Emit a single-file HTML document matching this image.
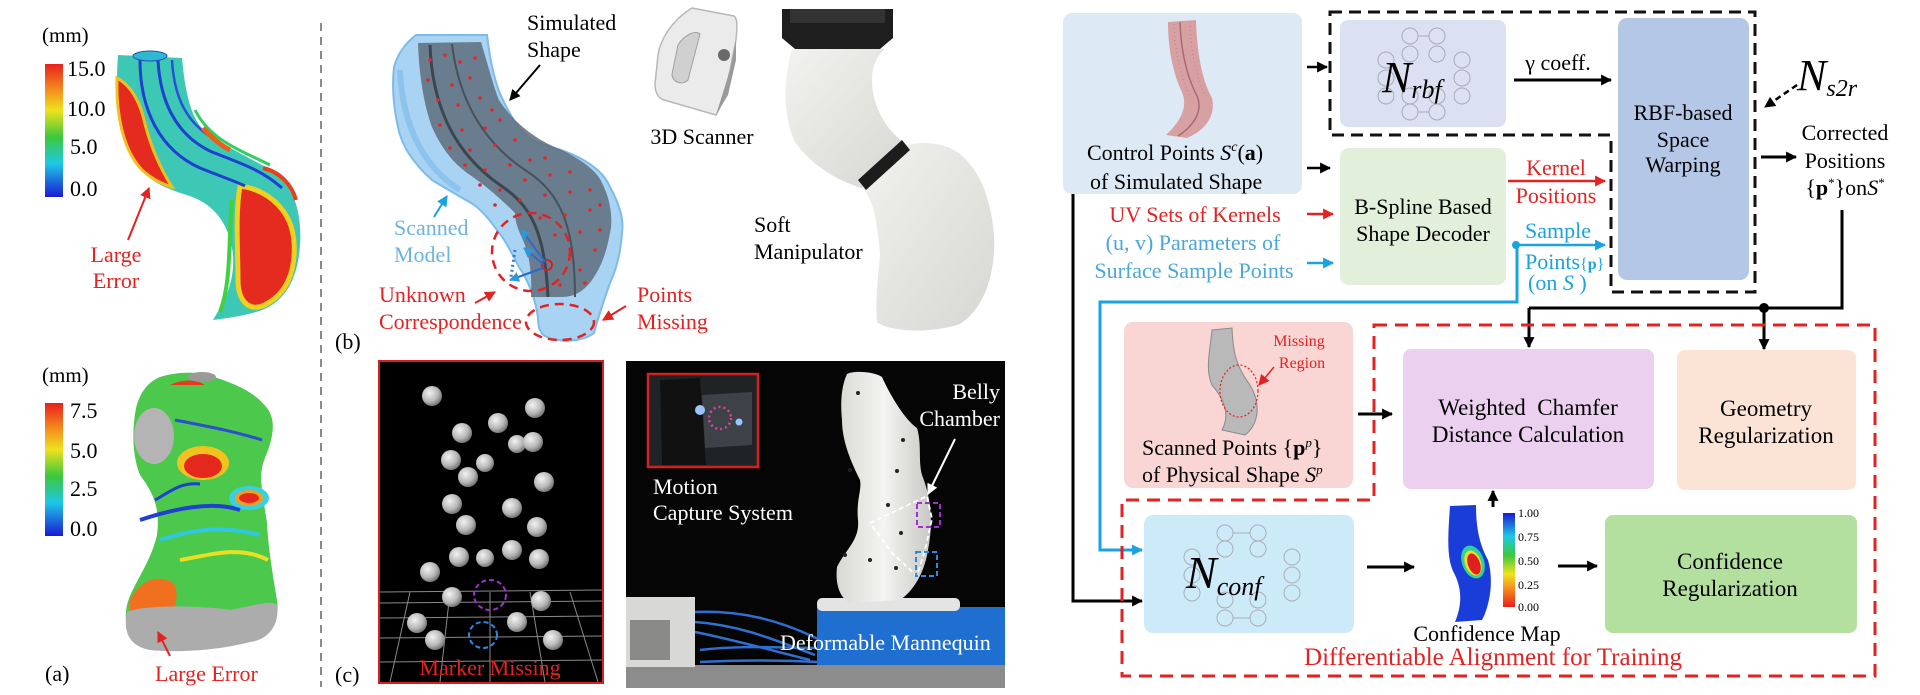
<!DOCTYPE html>
<html>
<head>
<meta charset="utf-8">
<style>
html,body{margin:0;padding:0;background:#fff;font-family:"Liberation Serif","Times New Roman","DejaVu Serif",serif;}
svg{display:block;font-family:"Liberation Serif","Times New Roman","DejaVu Serif",serif;}
svg text, svg tspan{font-family:"Liberation Serif","Times New Roman","DejaVu Serif",serif;}
</style>
</head>
<body>
<svg width="1920" height="695" viewBox="0 0 1920 695" xmlns="http://www.w3.org/2000/svg" font-family="Liberation Serif, Times New Roman, DejaVu Serif, serif">
<defs>
  <marker id="ak" viewBox="0 0 10 10" refX="9" refY="5" markerWidth="11" markerHeight="11" markerUnits="userSpaceOnUse" orient="auto"><path d="M0,0 L10,5 L0,10 z" fill="#000"/></marker>
  <marker id="ar" viewBox="0 0 10 10" refX="9" refY="5" markerWidth="11" markerHeight="11" markerUnits="userSpaceOnUse" orient="auto"><path d="M0,0 L10,5 L0,10 z" fill="#e32222"/></marker>
  <marker id="ab" viewBox="0 0 10 10" refX="9" refY="5" markerWidth="11" markerHeight="11" markerUnits="userSpaceOnUse" orient="auto"><path d="M0,0 L10,5 L0,10 z" fill="#1aa3e0"/></marker>
  <marker id="abl" viewBox="0 0 10 10" refX="9" refY="5" markerWidth="10" markerHeight="10" markerUnits="userSpaceOnUse" orient="auto"><path d="M0,0 L10,5 L0,10 z" fill="#2a9ad8"/></marker>
  <marker id="aw" viewBox="0 0 10 10" refX="9" refY="5" markerWidth="11" markerHeight="11" markerUnits="userSpaceOnUse" orient="auto"><path d="M0,0 L10,5 L0,10 z" fill="#fff"/></marker>
  <linearGradient id="cbar" x1="0" y1="0" x2="0" y2="1">
    <stop offset="0" stop-color="#e8201c"/>
    <stop offset="0.2" stop-color="#f5901e"/>
    <stop offset="0.35" stop-color="#efe21e"/>
    <stop offset="0.55" stop-color="#3cc83c"/>
    <stop offset="0.75" stop-color="#1ec8e6"/>
    <stop offset="1" stop-color="#1a1ad2"/>
  </linearGradient>
  <linearGradient id="cbar2" x1="0" y1="0" x2="0" y2="1">
    <stop offset="0" stop-color="#1a1ad2"/>
    <stop offset="0.25" stop-color="#1ec8e6"/>
    <stop offset="0.45" stop-color="#3cc83c"/>
    <stop offset="0.65" stop-color="#efe21e"/>
    <stop offset="0.8" stop-color="#f5901e"/>
    <stop offset="1" stop-color="#e8201c"/>
  </linearGradient>
  <linearGradient id="manip" x1="0" y1="0" x2="1" y2="1">
    <stop offset="0" stop-color="#f2f2f0"/>
    <stop offset="1" stop-color="#d6d6d2"/>
  </linearGradient>
  <linearGradient id="mq" x1="0" y1="0" x2="1" y2="0">
    <stop offset="0" stop-color="#d8d8d4"/>
    <stop offset="0.5" stop-color="#f4f4f2"/>
    <stop offset="1" stop-color="#c8c8c4"/>
  </linearGradient>
  <radialGradient id="sph" cx="0.38" cy="0.35" r="0.7">
    <stop offset="0" stop-color="#f2f2f2"/>
    <stop offset="0.6" stop-color="#b8b8b8"/>
    <stop offset="1" stop-color="#6a6a6a"/>
  </radialGradient>
</defs>

<!-- ================= PANEL (a) ================= -->
<text x="42" y="42" font-size="21">(mm)</text>
<rect x="45" y="64" width="18" height="133" fill="url(#cbar)"/>
<text x="67" y="76" font-size="22">15.0</text>
<text x="67" y="116" font-size="22">10.0</text>
<text x="70" y="154" font-size="22">5.0</text>
<text x="70" y="196" font-size="22">0.0</text>

<!-- tube -->
<g>
  <path d="M118,55 L182,58 C184,80 188,110 200,126 C215,142 250,158 275,172 C295,188 302,215 300,245 C298,275 288,300 262,310 C245,316 228,318 213,320 C222,305 235,285 233,255 C230,225 215,205 190,196 C170,190 150,183 137,165 C122,145 114,110 118,55 Z" fill="#3cc8b4"/>
  <path d="M117,78 C116,115 123,150 142,170 C152,179 162,184 172,187 C160,168 150,145 144,120 C139,100 130,85 117,78 Z" fill="#e52a20" stroke="#f0c020" stroke-width="3"/>
  <path d="M240,186 C270,190 292,212 294,242 C296,272 286,296 262,306 C248,311 238,300 238,280 C238,250 235,215 240,186 Z" fill="#e52a20" stroke="#f0d020" stroke-width="5"/>
  <path d="M140,60 C140,110 160,150 200,168 C225,178 240,183 245,186" fill="none" stroke="#2040d0" stroke-width="3"/>
  <path d="M158,60 C160,100 175,135 212,152 C240,163 262,170 282,188" fill="none" stroke="#2040d0" stroke-width="3"/>
  <path d="M172,60 C174,95 185,125 220,142" fill="none" stroke="#2a50d8" stroke-width="2.5"/>
  <path d="M195,110 C210,140 240,150 270,165" fill="none" stroke="#30d060" stroke-width="3"/>
  <path d="M232,200 C228,240 232,280 220,312" fill="none" stroke="#40d040" stroke-width="4"/>
  <ellipse cx="150" cy="56" rx="17" ry="5" fill="#30b8d0" stroke="#1a50c0" stroke-width="1"/>
  <path d="M203,128 C212,138 222,146 230,150" fill="none" stroke="#e8601c" stroke-width="5"/>
  <path d="M263,168 C280,172 292,185 296,200" fill="none" stroke="#e8401c" stroke-width="4"/>
</g>
<text x="116" y="262" font-size="22" fill="#e32222" text-anchor="middle">Large</text>
<text x="116" y="288" font-size="22" fill="#e32222" text-anchor="middle">Error</text>
<line x1="128" y1="240" x2="149" y2="188" stroke="#e32222" stroke-width="2" marker-end="url(#ar)"/>

<text x="42" y="382" font-size="21">(mm)</text>
<rect x="45" y="403" width="18" height="133" fill="url(#cbar)"/>
<text x="70" y="418" font-size="22">7.5</text>
<text x="70" y="458" font-size="22">5.0</text>
<text x="70" y="496" font-size="22">2.5</text>
<text x="70" y="536" font-size="22">0.0</text>

<!-- mannequin heatmap -->
<g>
  <path d="M160,377 C175,372 200,370 217,378 C235,384 255,392 267,408 C276,420 274,436 265,458 C258,475 262,490 267,523 C268,545 272,570 277,600 C280,620 270,635 250,640 C220,648 180,652 150,650 C128,645 123,625 127,605 C132,585 150,565 157,535 C160,510 155,495 140,475 C132,455 132,430 136,408 C140,392 148,382 160,377 Z" fill="#4cc84c"/>
  <ellipse cx="154" cy="436" rx="20" ry="28" fill="#b4b4b4"/>
  <path d="M130,600 C140,580 160,572 175,585 C180,600 172,620 160,625 L130,622 Z" fill="#f07020"/>
  <path d="M127,612 C140,605 200,605 230,610 C255,605 272,600 277,605 C280,625 268,640 250,642 C220,650 180,653 150,650 C128,646 123,630 127,612 Z" fill="#acacac"/>
  <ellipse cx="203" cy="463" rx="26" ry="17" fill="#f2c21e"/>
  <ellipse cx="203" cy="466" rx="19" ry="12" fill="#e5281e"/>
  <ellipse cx="249" cy="498" rx="20" ry="12" fill="#3ad0e0"/>
  <ellipse cx="249" cy="498" rx="14" ry="8" fill="#f0a020"/>
  <ellipse cx="249" cy="498" rx="10" ry="5" fill="#e5281e"/>
  <path d="M140,520 C170,510 210,500 240,510" fill="none" stroke="#2040d0" stroke-width="4"/>
  <path d="M160,540 C190,530 220,525 260,535" fill="none" stroke="#30c8e0" stroke-width="4"/>
  <path d="M180,560 C210,555 240,545 268,560" fill="none" stroke="#e8e020" stroke-width="4"/>
  <path d="M175,420 C200,425 230,430 262,440" fill="none" stroke="#2a50d0" stroke-width="3"/>
  <path d="M155,500 C170,492 180,482 200,484" fill="none" stroke="#2040d0" stroke-width="3"/>
  <path d="M170,385 C180,380 195,378 205,385" fill="#e53a20"/>
  <ellipse cx="202" cy="377" rx="14" ry="5" fill="#9a9a9a"/>
</g>
<text x="45" y="681" font-size="22">(a)</text>
<text x="155" y="681" font-size="22" fill="#e32222">Large Error</text>
<line x1="170" y1="656" x2="158" y2="632" stroke="#e32222" stroke-width="2" marker-end="url(#ar)"/>

<!-- separator -->
<line x1="321" y1="23" x2="321" y2="687" stroke="#8a8a8a" stroke-width="2" stroke-dasharray="8,6"/>

<!-- ================= PANEL (b) ================= -->
<path d="M416,35 L487,35 C490,60 495,85 503,100 C515,125 525,138 539,143 C555,148 568,152 578,157 C595,166 605,175 610,187 C620,205 624,220 622,233 C620,258 615,272 610,283 C604,300 598,318 594,333 C585,340 570,342 558,340 C545,338 538,335 538,318 C536,300 528,280 519,267 C510,250 505,240 499,233 C490,220 480,208 471,203 C452,192 440,185 432,180 C415,165 402,148 398,127 C393,105 392,85 394,67 C398,52 407,42 416,35 Z" fill="#a9d3f2" stroke="#7cbbea" stroke-width="2"/>
<path d="M400,70 C402,120 420,165 460,190" fill="none" stroke="#8cc4ee" stroke-width="6"/>
<path d="M418,43 L481,42 C488,65 494,88 499,100 C515,125 540,142 562,150 C582,160 598,172 602,183 C611,200 613,220 610,233 C606,255 600,268 594,277 C586,290 575,297 562,297 L531,297 C532,275 530,255 522,238 C516,225 515,218 515,213 C500,198 485,185 467,173 C450,160 440,145 432,127 C424,105 419,75 418,43 Z" fill="#5f6d7c" opacity="0.85"/>
<path d="M430,45 C432,100 450,150 500,185 C530,205 545,230 548,297" fill="none" stroke="#3c4650" stroke-width="3"/>
<path d="M452,44 C458,95 480,140 525,170 C560,192 575,225 575,297" fill="none" stroke="#46515c" stroke-width="2"/>
<g fill="#e0262a">
<circle cx="430" cy="60" r="1.8"/><circle cx="445" cy="55" r="1.8"/><circle cx="460" cy="62" r="1.8"/><circle cx="475" cy="58" r="1.8"/><circle cx="428" cy="80" r="1.8"/><circle cx="452" cy="85" r="1.8"/><circle cx="470" cy="78" r="1.8"/><circle cx="438" cy="100" r="1.8"/><circle cx="458" cy="105" r="1.8"/><circle cx="480" cy="98" r="1.8"/><circle cx="492" cy="110" r="1.8"/><circle cx="440" cy="125" r="1.8"/><circle cx="462" cy="130" r="1.8"/><circle cx="485" cy="128" r="1.8"/><circle cx="500" cy="120" r="1.8"/><circle cx="450" cy="148" r="1.8"/><circle cx="470" cy="150" r="1.8"/><circle cx="495" cy="145" r="1.8"/><circle cx="515" cy="140" r="1.8"/><circle cx="465" cy="165" r="1.8"/><circle cx="485" cy="170" r="1.8"/><circle cx="510" cy="165" r="1.8"/><circle cx="530" cy="160" r="1.8"/><circle cx="545" cy="158" r="1.8"/><circle cx="480" cy="185" r="1.8"/><circle cx="500" cy="190" r="1.8"/><circle cx="525" cy="180" r="1.8"/><circle cx="550" cy="175" r="1.8"/><circle cx="570" cy="172" r="1.8"/><circle cx="495" cy="205" r="1.8"/><circle cx="520" cy="200" r="1.8"/><circle cx="545" cy="195" r="1.8"/><circle cx="570" cy="192" r="1.8"/><circle cx="590" cy="190" r="1.8"/><circle cx="540" cy="218" r="1.8"/><circle cx="565" cy="215" r="1.8"/><circle cx="590" cy="210" r="1.8"/><circle cx="600" cy="205" r="1.8"/><circle cx="555" cy="235" r="1.8"/><circle cx="580" cy="232" r="1.8"/><circle cx="600" cy="230" r="1.8"/><circle cx="570" cy="255" r="1.8"/><circle cx="595" cy="250" r="1.8"/><circle cx="580" cy="270" r="1.8"/><circle cx="560" cy="285" r="1.8"/><circle cx="585" cy="283" r="1.8"/>
</g>
<circle cx="531" cy="252" r="39" fill="none" stroke="#e32222" stroke-width="2.5" stroke-dasharray="9,6"/>
<ellipse cx="560" cy="322" rx="34" ry="18" fill="none" stroke="#e32222" stroke-width="2.5" stroke-dasharray="9,6"/>
<circle cx="547" cy="265" r="5" fill="none" stroke="#d42020" stroke-width="2"/>
<line x1="545" y1="262" x2="521" y2="229" stroke="#2a6ad0" stroke-width="2" marker-end="url(#abl)"/>
<line x1="543" y1="264" x2="524" y2="248" stroke="#2a6ad0" stroke-width="2" marker-end="url(#abl)"/>
<line x1="543" y1="268" x2="510" y2="280" stroke="#2a6ad0" stroke-width="2" marker-end="url(#abl)"/>
<line x1="515" y1="250" x2="511" y2="277" stroke="#3a7ad8" stroke-width="3" stroke-dasharray="2,3"/>

<text x="527" y="30" font-size="22">Simulated</text>
<text x="527" y="57" font-size="22">Shape</text>
<line x1="540" y1="65" x2="510" y2="100" stroke="#000" stroke-width="2" marker-end="url(#ak)"/>
<text x="394" y="235" font-size="22" fill="#6cb4e4">Scanned</text>
<text x="394" y="262" font-size="22" fill="#6cb4e4">Model</text>
<line x1="434" y1="217" x2="447" y2="196" stroke="#1aa3e0" stroke-width="2" marker-end="url(#ab)"/>
<text x="379" y="302" font-size="22" fill="#e32222">Unknown</text>
<text x="379" y="329" font-size="22" fill="#e32222">Correspondence</text>
<line x1="475" y1="303" x2="495" y2="292" stroke="#e32222" stroke-width="2" marker-end="url(#ar)"/>
<text x="637" y="302" font-size="22" fill="#e32222">Points</text>
<text x="637" y="329" font-size="22" fill="#e32222">Missing</text>
<line x1="626" y1="306" x2="603" y2="320" stroke="#e32222" stroke-width="2" marker-end="url(#ar)"/>
<text x="335" y="349" font-size="22">(b)</text>

<!-- 3D scanner -->
<g>
  <path d="M692,8 L734,16 C738,18 737,30 736,40 L730,70 C726,90 722,105 716,115 L664,100 C658,98 655,92 655,84 L658,55 C660,40 672,20 692,8 Z" fill="#ebebeb" stroke="#b8b8b8" stroke-width="1.5"/>
  <path d="M716,115 L730,70 L736,40 L736,60 L728,95 Z" fill="#9a9a9a"/>
  <path d="M678,45 C684,35 695,30 700,34 L688,80 C682,86 672,82 672,74 Z" fill="#d0d0d0" stroke="#a0a0a0"/>
  <circle cx="724" cy="55" r="6" fill="#6a6a6a"/>
</g>
<text x="702" y="144" font-size="22" text-anchor="middle">3D Scanner</text>

<!-- soft manipulator -->
<g>
  <path d="M792,49 C786,70 780,110 795,142 C812,166 838,181 862,188 L907,145 C885,130 872,105 872,80 C872,65 878,55 885,49 Z" fill="url(#manip)"/>
  <path d="M862,188 C875,200 878,230 880,255 C878,280 875,300 877,322 C890,332 930,334 960,324 C985,308 996,272 994,235 C991,195 976,160 950,148 C935,142 920,142 907,145 Z" fill="url(#manip)"/>
  <path d="M782,9 L893,9 L893,38 L880,49 L795,49 L782,38 Z" fill="#1e1e1e"/>
  <rect x="790" y="9" width="95" height="14" fill="#333"/>
  <path d="M858,180 L902,140 L910,150 L866,190 Z" fill="#1c1c1c"/>
</g>
<text x="754" y="232" font-size="22">Soft</text>
<text x="754" y="259" font-size="22">Manipulator</text>

<!-- ================= PANEL (c) ================= -->
<rect x="379" y="361" width="224" height="322" fill="#000" stroke="#d42020" stroke-width="2"/>
<g stroke="#8a8a8a" stroke-width="1" fill="none">
  <line x1="380" y1="592" x2="602" y2="590"/>
  <line x1="380" y1="603" x2="602" y2="601"/>
  <line x1="380" y1="618" x2="602" y2="616"/>
  <line x1="380" y1="638" x2="602" y2="636"/>
  <line x1="380" y1="662" x2="602" y2="660"/>
  <line x1="410" y1="592" x2="390" y2="682"/>
  <line x1="450" y1="592" x2="440" y2="682"/>
  <line x1="490" y1="592" x2="490" y2="682"/>
  <line x1="530" y1="592" x2="545" y2="682"/>
  <line x1="570" y1="592" x2="598" y2="682"/>
</g>
<g fill="url(#sph)">
<circle cx="432" cy="396" r="10"/><circle cx="535" cy="408" r="10"/><circle cx="462" cy="433" r="10"/><circle cx="498" cy="423" r="10"/><circle cx="517" cy="444" r="9"/><circle cx="533" cy="442" r="10"/><circle cx="451" cy="460" r="10"/><circle cx="485" cy="463" r="9"/><circle cx="468" cy="477" r="10"/><circle cx="544" cy="482" r="10"/><circle cx="452" cy="504" r="10"/><circle cx="512" cy="508" r="10"/><circle cx="466" cy="525" r="10"/><circle cx="537" cy="527" r="10"/><circle cx="459" cy="557" r="10"/><circle cx="485" cy="558" r="9"/><circle cx="512" cy="550" r="10"/><circle cx="539" cy="559" r="10"/><circle cx="430" cy="572" r="10"/><circle cx="452" cy="597" r="10"/><circle cx="541" cy="601" r="10"/><circle cx="417" cy="623" r="10"/><circle cx="517" cy="622" r="10"/><circle cx="435" cy="640" r="10"/><circle cx="553" cy="640" r="10"/>
</g>
<ellipse cx="490" cy="595" rx="16" ry="15" fill="none" stroke="#a030d0" stroke-width="2" stroke-dasharray="5,3"/>
<ellipse cx="483" cy="635" rx="14" ry="13" fill="none" stroke="#2a8ae0" stroke-width="2" stroke-dasharray="5,3"/>
<text x="490" y="675" font-size="22" fill="#e32222" text-anchor="middle">Marker Missing</text>
<text x="335" y="682" font-size="22">(c)</text>

<!-- photo -->
<rect x="626" y="361" width="379" height="327" fill="#050505"/>
<rect x="626" y="665" width="379" height="23" fill="#8c8c8c"/>
<rect x="648" y="374" width="110" height="93" fill="#202326" stroke="#d42020" stroke-width="2.5"/>
<path d="M660,380 L700,378 L706,465 L662,465 Z" fill="#111"/>
<path d="M702,395 L752,392 L752,445 L705,448 Z" fill="#3d4248"/>
<circle cx="720" cy="418" r="11" fill="none" stroke="#e0409a" stroke-width="2.5" stroke-dasharray="2,3"/>
<circle cx="700" cy="410" r="5" fill="#9ac4ff"/>
<circle cx="739" cy="422" r="3.5" fill="#9ac4ff"/>
<text x="653" y="494" font-size="22" fill="#fff">Motion</text>
<text x="653" y="520" font-size="22" fill="#fff">Capture System</text>

<rect x="626" y="597" width="69" height="70" fill="#d8d8d6"/>
<rect x="630" y="620" width="40" height="40" fill="#8a8a88"/>
<g fill="none" stroke="#2f6fd0" stroke-width="2.5">
  <path d="M695,612 C740,610 780,620 820,640"/>
  <path d="M695,622 C740,625 775,640 815,655"/>
  <path d="M695,632 C735,640 770,650 810,660"/>
  <path d="M700,650 C740,645 780,648 818,648"/>
  <path d="M700,662 C740,660 780,660 818,662"/>
</g>
<rect x="817" y="607" width="188" height="58" fill="#1f6fd0"/>
<rect x="817" y="598" width="143" height="13" rx="5" fill="#e4e4e4"/>
<path d="M847,374 C855,370 875,372 882,377 C890,395 905,420 917,428 C922,445 918,460 922,475 C930,495 934,520 928,550 C924,575 912,592 900,600 L850,603 C840,598 835,585 837,567 C845,550 860,540 858,520 C856,500 862,490 860,480 C850,460 842,440 842,420 C840,400 842,385 847,374 Z" fill="url(#mq)"/>
<g fill="#222">
  <circle cx="858" cy="393" r="2"/><circle cx="903" cy="440" r="2"/><circle cx="897" cy="471" r="2"/><circle cx="888" cy="505" r="2"/><circle cx="901" cy="533" r="2"/><circle cx="896" cy="568" r="2"/><circle cx="850" cy="470" r="2"/><circle cx="845" cy="555" r="2"/><circle cx="870" cy="560" r="2"/>
</g>
<path d="M870,523 L927,496 L932,519 L925,550 L917,576 L893,554 Z" fill="none" stroke="#fff" stroke-width="1.8" stroke-dasharray="5,3"/>
<rect x="917" y="503" width="23" height="24" fill="none" stroke="#a030d0" stroke-width="2" stroke-dasharray="5,3"/>
<rect x="916" y="552" width="21" height="24" fill="none" stroke="#2a8ae0" stroke-width="2" stroke-dasharray="5,3"/>
<text x="1000" y="399" font-size="22" fill="#fff" text-anchor="end">Belly</text>
<text x="1000" y="426" font-size="22" fill="#fff" text-anchor="end">Chamber</text>
<line x1="955" y1="439" x2="928" y2="494" stroke="#fff" stroke-width="2" marker-end="url(#aw)"/>
<text x="780" y="650" font-size="22" fill="#fff">Deformable Mannequin</text>

<!-- ================= RIGHT DIAGRAM ================= -->
<rect x="1063" y="13" width="239" height="181" rx="9" fill="#dde9f5"/>
<path d="M1168,22 L1196,20 C1197,50 1201,78 1212,98 C1216,115 1206,130 1187,138 L1166,135 C1181,121 1189,106 1181,90 C1172,70 1168,46 1168,22 Z" fill="#d7a1a4"/>
<path d="M1180,22 C1181,50 1186,75 1197,96 C1203,110 1195,125 1178,136" fill="none" stroke="#a86a70" stroke-width="1.5"/>
<path d="M1174,24 C1175,52 1180,76 1190,96" fill="none" stroke="#b98088" stroke-width="1" stroke-dasharray="1,3"/>
<path d="M1190,22 C1191,50 1195,76 1206,96" fill="none" stroke="#b98088" stroke-width="1" stroke-dasharray="1,3"/>
<text x="1087" y="160" font-size="22">Control Points <tspan font-style="italic">S</tspan><tspan font-size="14" dy="-9" font-style="italic">c</tspan><tspan dy="9">(</tspan><tspan font-weight="bold">a</tspan>)</text>
<text x="1090" y="189" font-size="22">of Simulated Shape</text>

<text x="1195" y="222" font-size="22" fill="#e32222" text-anchor="middle">UV Sets of Kernels</text>
<text x="1193" y="250" font-size="22" fill="#4aa8d8" text-anchor="middle">(u, v) Parameters of</text>
<text x="1194" y="278" font-size="22" fill="#4aa8d8" text-anchor="middle">Surface Sample Points</text>

<line x1="1307" y1="67" x2="1327" y2="67" stroke="#000" stroke-width="2.5" marker-end="url(#ak)"/>
<line x1="1307" y1="168" x2="1330" y2="168" stroke="#000" stroke-width="2.5" marker-end="url(#ak)"/>
<line x1="1307" y1="214" x2="1333" y2="214" stroke="#e32222" stroke-width="2.5" marker-end="url(#ar)"/>
<line x1="1307" y1="263" x2="1333" y2="263" stroke="#1aa3e0" stroke-width="2.5" marker-end="url(#ab)"/>

<path d="M1330,12 L1755,12 L1755,292 L1611,292 L1611,135 L1330,135 Z" fill="none" stroke="#111" stroke-width="3" stroke-dasharray="12,7"/>

<rect x="1340" y="20" width="166" height="107" rx="8" fill="#dbe1f2"/>
<g fill="none" stroke="#a8acb8" stroke-width="1">
  <circle cx="1386" cy="60" r="8"/><circle cx="1386" cy="78" r="8"/><circle cx="1386" cy="96" r="8"/>
  <circle cx="1410" cy="36" r="8"/><circle cx="1410" cy="54" r="8"/><circle cx="1410" cy="96" r="8"/><circle cx="1410" cy="112" r="8"/>
  <circle cx="1437" cy="36" r="8"/><circle cx="1437" cy="54" r="8"/><circle cx="1437" cy="96" r="8"/><circle cx="1437" cy="112" r="8"/>
  <circle cx="1462" cy="60" r="8"/><circle cx="1462" cy="78" r="8"/><circle cx="1462" cy="96" r="8"/>
  <line x1="1418" y1="36" x2="1429" y2="36"/><line x1="1418" y1="112" x2="1429" y2="112"/>
</g>
<text x="1382" y="92" font-size="44" font-style="italic">N<tspan font-size="26" dy="6">rbf</tspan></text>

<text x="1558" y="70" font-size="22" text-anchor="middle">γ coeff.</text>
<line x1="1514" y1="80" x2="1611" y2="80" stroke="#000" stroke-width="3" marker-end="url(#ak)"/>

<rect x="1618" y="18" width="131" height="262" rx="9" fill="#b4c7e7"/>
<text x="1683" y="120" font-size="22" text-anchor="middle">RBF-based</text>
<text x="1683" y="147" font-size="22" text-anchor="middle">Space</text>
<text x="1683" y="172" font-size="22" text-anchor="middle">Warping</text>

<rect x="1340" y="148" width="166" height="137" rx="9" fill="#e2efda"/>
<text x="1423" y="214" font-size="22" text-anchor="middle">B-Spline Based</text>
<text x="1423" y="241" font-size="22" text-anchor="middle">Shape Decoder</text>

<text x="1556" y="175" font-size="22" fill="#e32222" text-anchor="middle">Kernel</text>
<line x1="1508" y1="181" x2="1605" y2="181" stroke="#e32222" stroke-width="2.5" marker-end="url(#ar)"/>
<text x="1556" y="203" font-size="22" fill="#e32222" text-anchor="middle">Positions</text>
<text x="1558" y="238" font-size="22" fill="#1aa3e0" text-anchor="middle">Sample</text>
<line x1="1514" y1="245" x2="1605" y2="245" stroke="#1aa3e0" stroke-width="2.5" marker-end="url(#ab)"/>
<circle cx="1516" cy="245" r="4" fill="#1aa3e0"/>
<text x="1525" y="269" font-size="22" fill="#1aa3e0">Points<tspan font-size="16">{</tspan><tspan font-size="16" font-weight="bold">p</tspan><tspan font-size="16">}</tspan></text>
<text x="1528" y="290" font-size="22" fill="#1aa3e0">(on <tspan font-style="italic">S</tspan> )</text>

<text x="1797" y="90" font-size="44" font-style="italic">N<tspan font-size="24" dy="6">s2r</tspan></text>
<line x1="1797" y1="85" x2="1765" y2="107" stroke="#000" stroke-width="2.5" stroke-dasharray="6,4" marker-end="url(#ak)"/>
<line x1="1761" y1="157" x2="1796" y2="157" stroke="#000" stroke-width="3" marker-end="url(#ak)"/>
<text x="1845" y="140" font-size="22" text-anchor="middle">Corrected</text>
<text x="1845" y="168" font-size="22" text-anchor="middle">Positions</text>
<text x="1845" y="195" font-size="22" text-anchor="middle">{<tspan font-weight="bold">p</tspan><tspan font-size="13" dy="-8">*</tspan><tspan dy="8">}on</tspan><tspan font-style="italic">S</tspan><tspan font-size="13" dy="-8">*</tspan></text>

<polyline points="1842,210 1842,308 1529,308" fill="none" stroke="#000" stroke-width="3"/>
<line x1="1529" y1="308" x2="1529" y2="347" stroke="#000" stroke-width="3" marker-end="url(#ak)"/>
<line x1="1764" y1="308" x2="1764" y2="349" stroke="#000" stroke-width="3" marker-end="url(#ak)"/>
<circle cx="1764" cy="308" r="5" fill="#000"/>
<polyline points="1517,245 1517,302 1100,302 1100,550 1130,550" fill="none" stroke="#1aa3e0" stroke-width="3"/>
<line x1="1125" y1="550" x2="1142" y2="550" stroke="#1aa3e0" stroke-width="3" marker-end="url(#ab)"/>
<polyline points="1073,194 1073,601 1130,601" fill="none" stroke="#000" stroke-width="3"/>
<line x1="1125" y1="601" x2="1142" y2="601" stroke="#000" stroke-width="3" marker-end="url(#ak)"/>

<rect x="1124" y="322" width="229" height="166" rx="9" fill="#f9d5d4"/>
<path d="M1212,330 L1232,328 C1233,350 1235,365 1250,385 C1262,405 1258,425 1245,435 L1222,430 C1230,415 1225,400 1212,385 C1205,370 1210,350 1212,330 Z" fill="#b9b9b9" stroke="#8a8a8a" stroke-width="1"/>
<ellipse cx="1239" cy="391" rx="19" ry="26" fill="none" stroke="#e32222" stroke-width="1.2" stroke-dasharray="2,2"/>
<text x="1299" y="346" font-size="16" fill="#e32222" text-anchor="middle">Missing</text>
<text x="1302" y="368" font-size="16" fill="#e32222" text-anchor="middle">Region</text>
<line x1="1274" y1="367" x2="1259" y2="385" stroke="#e32222" stroke-width="1.5" marker-end="url(#ar)"/>
<text x="1142" y="455" font-size="22">Scanned Points {<tspan font-weight="bold">p</tspan><tspan font-size="13" dy="-8" font-style="italic">p</tspan><tspan dy="8">}</tspan></text>
<text x="1142" y="482" font-size="22">of Physical Shape  <tspan font-style="italic">S</tspan><tspan font-size="13" dy="-8" font-style="italic">p</tspan></text>

<path d="M1374,325 L1875,325 L1875,676 L1122,676 L1122,500 L1374,500 Z" fill="none" stroke="#e32222" stroke-width="3" stroke-dasharray="13,8"/>

<line x1="1358" y1="414" x2="1392" y2="414" stroke="#000" stroke-width="3" marker-end="url(#ak)"/>

<rect x="1403" y="349" width="251" height="140" rx="8" fill="#ecd0ef"/>
<text x="1528" y="415" font-size="23" text-anchor="middle" xml:space="preserve">Weighted  Chamfer</text>
<text x="1528" y="442" font-size="23" text-anchor="middle">Distance Calculation</text>

<rect x="1677" y="350" width="179" height="140" rx="8" fill="#fbe4d5"/>
<text x="1766" y="416" font-size="23" text-anchor="middle">Geometry</text>
<text x="1766" y="443" font-size="23" text-anchor="middle">Regularization</text>

<rect x="1144" y="515" width="210" height="118" rx="9" fill="#cdeaf8"/>
<g fill="none" stroke="#a8b0b8" stroke-width="1">
  <circle cx="1192" cy="557" r="8"/><circle cx="1192" cy="575" r="8"/><circle cx="1192" cy="593" r="8"/>
  <circle cx="1225" cy="533" r="8"/><circle cx="1225" cy="549" r="8"/><circle cx="1225" cy="600" r="8"/><circle cx="1225" cy="618" r="8"/>
  <circle cx="1258" cy="533" r="8"/><circle cx="1258" cy="549" r="8"/><circle cx="1258" cy="600" r="8"/><circle cx="1258" cy="618" r="8"/>
  <circle cx="1292" cy="557" r="8"/><circle cx="1292" cy="575" r="8"/><circle cx="1292" cy="593" r="8"/>
  <line x1="1233" y1="533" x2="1250" y2="533"/><line x1="1233" y1="618" x2="1250" y2="618"/>
</g>
<text x="1186" y="588" font-size="46" font-style="italic">N<tspan font-size="26" dy="7">conf</tspan></text>

<line x1="1367" y1="567" x2="1414" y2="567" stroke="#000" stroke-width="3" marker-end="url(#ak)"/>

<path d="M1450,506 L1476,505 C1476,530 1480,545 1488,560 C1494,580 1490,605 1482,620 L1455,622 C1462,605 1462,590 1455,575 C1446,560 1448,535 1450,506 Z" fill="#1a3cd8"/>
<ellipse cx="1473" cy="562" rx="11" ry="17" transform="rotate(-20 1473 562)" fill="#30d0a0"/>
<ellipse cx="1473" cy="563" rx="8" ry="13" transform="rotate(-20 1473 563)" fill="#e8e020"/>
<ellipse cx="1474" cy="564" rx="6" ry="11" transform="rotate(-20 1474 564)" fill="#e02020"/>
<rect x="1503" y="513" width="12" height="94" fill="url(#cbar2)"/>
<g font-size="12">
<text x="1518" y="517">1.00</text>
<text x="1518" y="541">0.75</text>
<text x="1518" y="565">0.50</text>
<text x="1518" y="589">0.25</text>
<text x="1518" y="611">0.00</text>
</g>
<line x1="1493" y1="507" x2="1493" y2="491" stroke="#000" stroke-width="3" marker-end="url(#ak)"/>
<text x="1487" y="641" font-size="22" text-anchor="middle">Confidence Map</text>
<line x1="1558" y1="566" x2="1597" y2="566" stroke="#000" stroke-width="3" marker-end="url(#ak)"/>

<rect x="1605" y="515" width="252" height="118" rx="8" fill="#b3e09e"/>
<text x="1730" y="569" font-size="23" text-anchor="middle">Confidence</text>
<text x="1730" y="596" font-size="23" text-anchor="middle">Regularization</text>

<text x="1493" y="665" font-size="25" fill="#e32222" text-anchor="middle">Differentiable Alignment for Training</text>
</svg>
</body>
</html>
